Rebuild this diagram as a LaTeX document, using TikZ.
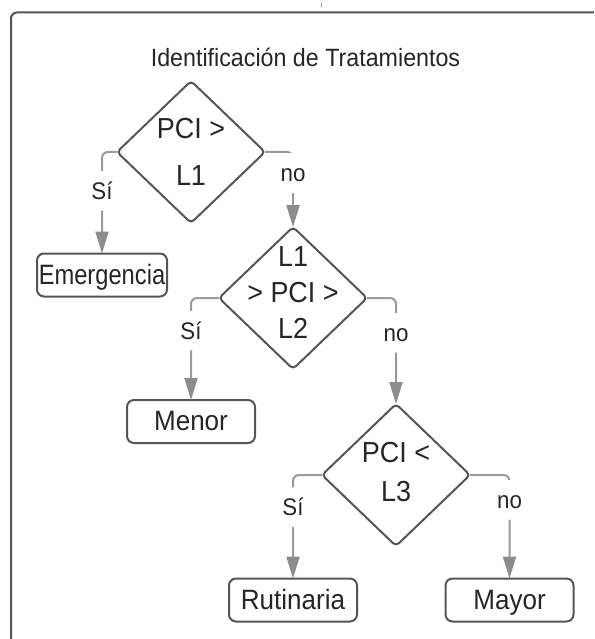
\documentclass[tikz,border=0pt]{standalone}
\usepackage{fontspec}
\setmainfont{Liberation Sans}
\newfontfamily\condfont{Liberation Sans}[FakeStretch=0.93]
\usetikzlibrary{shapes.geometric,arrows.meta}
\definecolor{shapeline}{HTML}{555555}
\definecolor{connline}{HTML}{9A9A9A}
\definecolor{tipcol}{HTML}{8C8C8C}
\definecolor{txt}{HTML}{262626}
\begin{document}
\begin{tikzpicture}[x=1pt,y=-1pt,
  frameline/.style={draw=shapeline, line width=2pt, rounded corners=6pt},
  dia/.style={shape=diamond, draw=shapeline, line width=2pt, minimum width=148pt, minimum height=142pt, inner sep=0pt, outer sep=0pt, rounded corners=4pt},
  dtext/.style={text=txt, align=center, inner sep=0pt},
  box/.style={draw=shapeline, line width=2pt, rounded corners=7pt, minimum width=128pt, minimum height=43pt, inner sep=0pt, outer sep=0pt, text=txt, text height=20pt, text depth=2pt, font=\condfont\fontsize{28}{32}\selectfont},
  conn/.style={draw=connline, line width=2pt, rounded corners=6pt, -{Triangle[length=22pt,width=13pt,color=tipcol]}},
  lbl/.style={fill=white, text=txt, font=\condfont\fontsize{24}{27}\selectfont, inner xsep=3pt, inner ysep=11pt, text height=17.5pt, text depth=0pt},
  titlestyle/.style={text=txt, font=\condfont\fontsize{25}{29}\selectfont, inner sep=0pt}
]
\useasboundingbox (0,0) rectangle (594,639);
\fill[white] (0,0) rectangle (594,639);

% outer frame and small tick
\draw[frameline] (594,12.5) -- (11,12.5) -- (11,639);
\draw[connline, line width=1pt] (321,3) -- (321,7);

% title
\node[titlestyle] (title) at (305.5,57.5) {Identificación de Tratamientos};

% decisions
\node[dia] (d1) at (191,152) {};
\node[dtext, font=\condfont\fontsize{29}{47}\selectfont] (t1) at (d1.center) {PCI >\\L1};
\node[dia] (d2) at (293,298) {};
\node[dtext, font=\condfont\fontsize{29}{36}\selectfont] (t2) at ([yshift=5pt]d2.center) {L1\\> PCI >\\L2};
\node[dia] (d3) at (396,475) {};
\node[dtext, font=\condfont\fontsize{29}{39}\selectfont] (t3) at ([yshift=2.5pt]d3.center) {PCI <\\L3};

% outcomes
\node[box, minimum width=130pt] (em) at (102,275) {\scalebox{0.91}[1]{Emergencia}};
\node[box] (menor) at (191,421.5) {Menor};
\node[box] (rut) at (293,600) {Rutinaria};
\node[box] (may) at (509.5,600) {Mayor};

% connectors
\draw[conn] (d1.west) -| node[lbl, pos=0.69] (l1) {Sí} (em.north);
\draw[conn] (d1.east) -| node[lbl, pos=0.64] (l2) {no} (d2.north);
\draw[conn] (d2.west) -| node[lbl, pos=0.66] (l3) {Sí} (menor.north);
\draw[conn] (d2.east) -| node[lbl, pos=0.665] (l4) {no} (d3.north);
\draw[conn] (d3.west) -| node[lbl, pos=0.655] (l5) {Sí} (rut.north);
\draw[conn] (d3.east) -| node[lbl, pos=0.62] (l6) {no} (may.north);
\end{tikzpicture}
\end{document}
